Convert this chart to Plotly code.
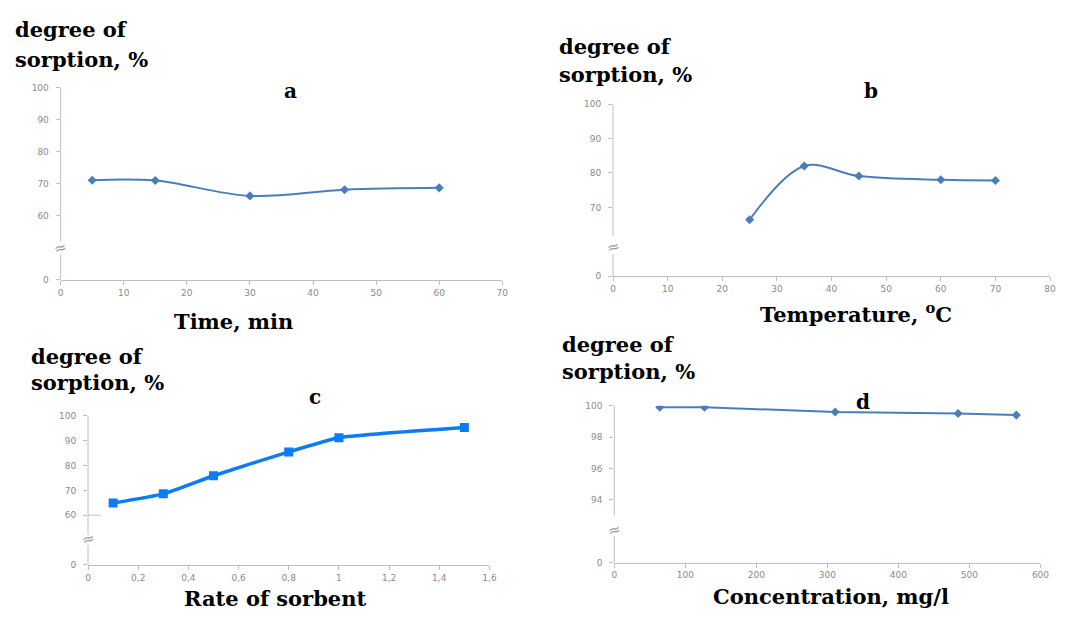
import plotly.graph_objects as go

# ---------------- data ----------------
time_min = [5, 15, 30, 45, 60]
sorption_a = [71.1, 71.0, 66.2, 68.1, 68.7]

temp_c = [25, 35, 45, 60, 70]
sorption_b = [66.4, 82.0, 79.1, 78.0, 77.8]

rate_sorbent = [0.1, 0.3, 0.5, 0.8, 1.0, 1.5]
sorption_c = [64.9, 68.6, 75.9, 85.5, 91.2, 95.3]

conc_mgl = [64, 127, 311, 484, 566]
sorption_d = [99.9, 99.9, 99.6, 99.5, 99.4]

# tick labels (broken y axes: the "0" label sits just below the break)
a_xticks = [0, 10, 20, 30, 40, 50, 60, 70]
a_ytickvals = [40, 60, 70, 80, 90, 100]
a_yticktext = ["0", "60", "70", "80", "90", "100"]

b_xticks = [0, 10, 20, 30, 40, 50, 60, 70, 80]
b_ytickvals = [50, 70, 80, 90, 100]
b_yticktext = ["0", "70", "80", "90", "100"]

c_xtickvals = [0, 0.2, 0.4, 0.6, 0.8, 1.0, 1.2, 1.4, 1.6]
c_xticktext = ["0", "0,2", "0,4", "0,6", "0,8", "1", "1,2", "1,4", "1,6"]
c_ytickvals = [40, 60, 70, 80, 90, 100]
c_yticktext = ["0", "60", "70", "80", "90", "100"]

d_xticks = [0, 100, 200, 300, 400, 500, 600]
d_ytickvals = [90, 94, 96, 98, 100]
d_yticktext = ["0", "94", "96", "98", "100"]

W, H = 1065, 617

def px_x(a, b):
    return [a / W, b / W]

def px_y(bottom, top):
    return [(H - bottom) / H, (H - top) / H]

EXCEL_BLUE = "#4a7ebb"
BRIGHT_BLUE = "#0a7cf5"
AXIS_GRAY = "#bfbfbf"
TICK_FONT = dict(family="DejaVu Sans", size=9, color="#8a8a8a")
SERIF = "DejaVu Serif"

fig = go.Figure()

fig.add_trace(go.Scatter(x=time_min, y=sorption_a, xaxis="x", yaxis="y",
                         mode="lines+markers", line=dict(color=EXCEL_BLUE, width=2, shape="spline", smoothing=1),
                         marker=dict(symbol="diamond", size=7, color=EXCEL_BLUE), showlegend=False))
fig.add_trace(go.Scatter(x=temp_c, y=sorption_b, xaxis="x2", yaxis="y2",
                         mode="lines+markers", line=dict(color=EXCEL_BLUE, width=2, shape="spline", smoothing=1),
                         marker=dict(symbol="diamond", size=7, color=EXCEL_BLUE), showlegend=False))
fig.add_trace(go.Scatter(x=rate_sorbent, y=sorption_c, xaxis="x3", yaxis="y3",
                         mode="lines+markers", line=dict(color=BRIGHT_BLUE, width=3.5, shape="spline", smoothing=0.4),
                         marker=dict(symbol="square", size=9, color=BRIGHT_BLUE), showlegend=False))
fig.add_trace(go.Scatter(x=conc_mgl, y=sorption_d, xaxis="x4", yaxis="y4",
                         mode="lines+markers", line=dict(color=EXCEL_BLUE, width=2),
                         marker=dict(symbol="diamond", size=7, color=EXCEL_BLUE), showlegend=False))

def xax(domain, rng, anchor, tickvals, ticktext=None):
    d = dict(domain=domain, range=rng, anchor=anchor, showgrid=False, zeroline=False,
             showline=True, linecolor=AXIS_GRAY, linewidth=1, ticks="outside", ticklen=4,
             tickcolor=AXIS_GRAY, tickvals=tickvals, tickfont=TICK_FONT)
    if ticktext is not None:
        d["ticktext"] = ticktext
    return d

def yax(domain, rng, anchor, tickvals, ticktext):
    return dict(domain=domain, range=rng, anchor=anchor, showgrid=False, zeroline=False,
                showline=False, ticks="outside", ticklen=4, tickcolor=AXIS_GRAY,
                tickvals=tickvals, ticktext=ticktext, tickfont=TICK_FONT, ticklabelstandoff=5)

layout = dict(
    autosize=True, margin=dict(l=0, r=0, t=0, b=0),
    paper_bgcolor="white", plot_bgcolor="white",
    xaxis=xax(px_x(58.3, 505), [0, 70], "y", a_xticks),
    yaxis=yax(px_y(279.3, 84), [40, 100], "x", a_ytickvals, a_yticktext),
    xaxis2=xax(px_x(617, 1059), [0, 80], "y2", b_xticks),
    yaxis2=yax(px_y(275.7, 100.7), [50, 100], "x2", b_ytickvals, b_yticktext),
    xaxis3=xax(px_x(86, 492), [0, 1.6], "y3", c_xtickvals, c_xticktext),
    yaxis3=yax(px_y(569, 417.7), [40, 100], "x3", c_ytickvals, c_yticktext),
    xaxis4=xax(px_x(618.3, 1049.3), [0, 600], "y4", d_xticks),
    yaxis4=yax(px_y(566.7, 407.3), [90, 100], "x4", d_ytickvals, d_yticktext),
)
fig.update_layout(**layout)

# broken y-axis lines with a gap and a break glyph
breaks = [("x", "y", 40, 48, 52, 100, 50),
          ("x2", "y2", 50, 56.4, 61.5, 100, 58.5),
          ("x3", "y3", 40, 48, 52, 100, 50.3),
          ("x4", "y4", 90, 91.7, 93.0, 100, 92.1)]
for xa, ya, y0, g0, g1, y1, yb in breaks:
    for a, b in [(y0, g0), (g1, y1)]:
        fig.add_shape(type="line", xref=f"{xa} domain", yref=ya, x0=0, x1=0, y0=a, y1=b,
                      line=dict(color=AXIS_GRAY, width=1))
    fig.add_annotation(text="≈", xref=f"{xa} domain", yref=ya, x=0, y=yb, showarrow=False,
                       font=dict(family="DejaVu Sans", size=15, color="#9a9a9a"),
                       xanchor="center", yanchor="middle", textangle=-15)

# short extension of the 60 tick in panel c
fig.add_shape(type="line", xref="x3 domain", yref="y3", x0=0, x1=0.032, y0=60, y1=60,
              line=dict(color=AXIS_GRAY, width=1))

# y-axis titles (top-left of each panel), one annotation per line
for x, y1, y2 in [(10, 25, 55), (560, 42, 71), (26, 357, 384), (563, 345, 373)]:
    for txt, yy in [("degree of", y1), ("sorption, %", y2)]:
        fig.add_annotation(text=f"<b>{txt}</b>", xref="paper", yref="paper",
                           x=x / W, y=1 - yy / H, showarrow=False, xanchor="left", yanchor="middle",
                           font=dict(family=SERIF, size=21, color="black"))

# panel letters
for t, x, y in [("a", 291, 87), ("b", 878, 87), ("c", 316, 398), ("d", 870, 404)]:
    fig.add_annotation(text=f"<b>{t}</b>", xref="paper", yref="paper", x=x / W, y=1 - y / H,
                       showarrow=False, xanchor="center", yanchor="middle",
                       font=dict(family=SERIF, size=20, color="black"))

# x-axis titles
for t, x, y in [("Time, min", 233, 322), ("Temperature, <sup>o</sup>C", 863, 313),
                ("Rate of sorbent", 275, 603), ("Concentration, mg/l", 837, 601)]:
    fig.add_annotation(text=f"<b>{t}</b>", xref="paper", yref="paper", x=x / W, y=1 - y / H,
                       showarrow=False, xanchor="center", yanchor="middle",
                       font=dict(family=SERIF, size=21, color="black"))

fig.write_html("out.html",
               default_width="100vw", default_height="100vh",
               config={"displayModeBar": False, "responsive": True},
               post_script="document.body.style.margin='0px';document.body.style.overflow='hidden';"
                           "Plotly.Plots.resize(document.getElementById('{plot_id}'));")
